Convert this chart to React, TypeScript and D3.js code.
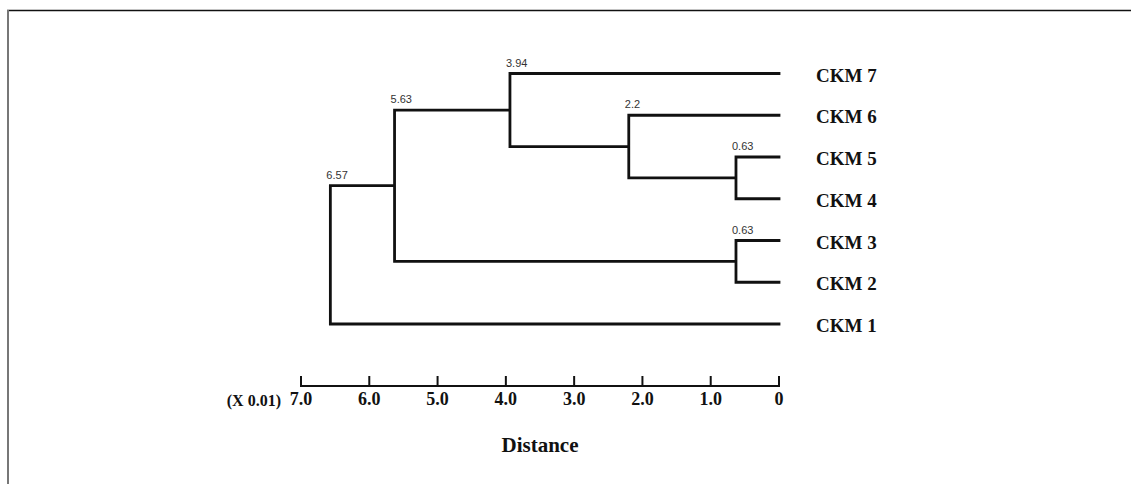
import * as d3 from 'd3'

// leaves, top to bottom
const leaves = ['CKM 7', 'CKM 6', 'CKM 5', 'CKM 4', 'CKM 3', 'CKM 2', 'CKM 1']

// merges (agglomeration steps)
const mergeIds = ['A', 'B', 'C', 'D', 'E', 'root']
const mergeLeft = ['CKM 5', 'CKM 3', 'CKM 6', 'CKM 7', 'D', 'E']
const mergeRight = ['CKM 4', 'CKM 2', 'A', 'C', 'B', 'CKM 1']
const mergeHeights = [0.63, 0.63, 2.2, 3.94, 5.63, 6.57]

const tickValues = [7, 6, 5, 4, 3, 2, 1, 0]

const W = 1131
const H = 484

const App = () => {
  const x = d3.scaleLinear().domain([7, 0]).range([301, 779])
  const y = d3.scalePoint<string>().domain(leaves).range([73.5, 324])

  // position of every node
  const pos: Record<string, { h: number; y: number }> = {}
  leaves.forEach(l => { pos[l] = { h: 0, y: y(l) as number } })
  mergeIds.forEach((id, i) => {
    const a = pos[mergeLeft[i]]
    const b = pos[mergeRight[i]]
    pos[id] = { h: mergeHeights[i], y: (a.y + b.y) / 2 }
  })

  const p = d3.path()
  mergeIds.forEach((id, i) => {
    const a = pos[mergeLeft[i]]
    const b = pos[mergeRight[i]]
    const nx = x(mergeHeights[i])
    p.moveTo(x(a.h), a.y)
    p.lineTo(nx, a.y)
    p.lineTo(nx, b.y)
    p.lineTo(x(b.h), b.y)
  })

  const axisY = 386
  const serif = '"Liberation Serif", "Times New Roman", serif'

  return (
    <svg width={W} height={H} style={{ position: 'absolute', left: 0, top: 0, background: '#fff' }}>
      {/* frame */}
      <line x1={7} x2={W} y1={10.5} y2={10.5} stroke="#111" strokeWidth={1.5} />
      <line x1={8} x2={8} y1={10} y2={H} stroke="#777" strokeWidth={2} />

      {/* tree */}
      <path d={p.toString()} fill="none" stroke="#111" strokeWidth={2.8} strokeLinejoin="miter" strokeLinecap="square" />

      {/* node heights */}
      {mergeIds.map((id, i) => {
        const top = Math.min(pos[mergeLeft[i]].y, pos[mergeRight[i]].y)
        return (
          <text key={id} x={x(mergeHeights[i]) - 4} y={top - 7}
            fontFamily='"Liberation Sans Narrow", "Liberation Sans", Arial, sans-serif'
            fontSize={11} fill="#333">
            {mergeHeights[i]}
          </text>
        )
      })}

      {/* leaf labels */}
      {leaves.map(l => (
        <text key={l} x={816} y={(y(l) as number) + 8} fontFamily={serif} fontWeight="bold" fontSize={19} fill="#111">
          {l}
        </text>
      ))}

      {/* axis */}
      <line x1={x(7)} x2={x(0)} y1={axisY} y2={axisY} stroke="#111" strokeWidth={2} />
      {tickValues.map(t => (
        <g key={t}>
          <line x1={x(t)} x2={x(t)} y1={axisY - 10} y2={axisY + 1} stroke="#111" strokeWidth={2} />
          <text x={x(t)} y={405} textAnchor="middle" fontFamily={serif} fontWeight="bold" fontSize={18} fill="#111">
            {t === 0 ? '0' : t.toFixed(1)}
          </text>
        </g>
      ))}
      <text x={281} y={406} textAnchor="end" fontFamily={serif} fontWeight="bold" fontSize={16} fill="#111">(X 0.01)</text>
      <text x={x(3.5)} y={452} textAnchor="middle" fontFamily={serif} fontWeight="bold" fontSize={21} fill="#111">Distance</text>
    </svg>
  )
}

export default App
